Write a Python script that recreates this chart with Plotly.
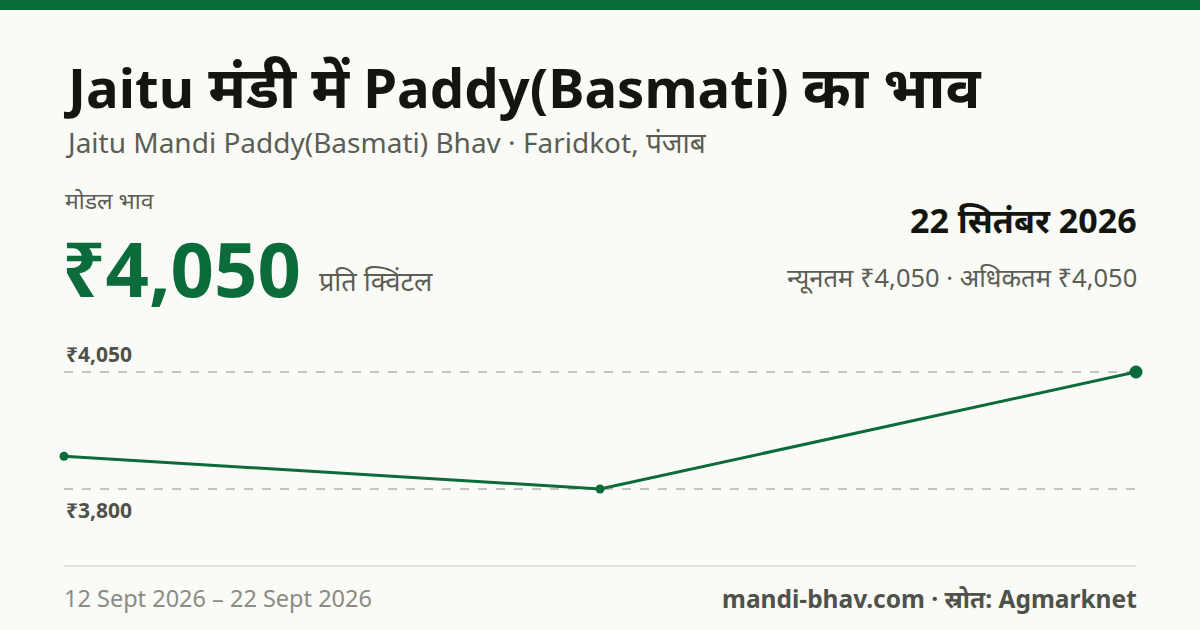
import plotly.graph_objs as go

# price series (Rs per quintal)
dates = ["2026-09-12", "2026-09-17", "2026-09-22"]
prices = [3870, 3800, 4050]
marker_sizes = [9, 9, 13]

# reference levels shown as dashed lines
ref_levels = [3800, 4050]
ref_labels = ["₹3,800", "₹4,050"]

DEV = "<span style='font-size:{}px'>{}</span>"
title = "Jaitu " + DEV.format(58, "मंडी में") + " Paddy(Basmati) " + DEV.format(58, "का भाव")
subtitle = "Jaitu Mandi Paddy(Basmati) Bhav · Faridkot, पंजाब"
modal_label = "मोडल भाव"
modal_price = "₹4,050"
unit = "प्रति क्विंटल"
latest_date = "22 सितंबर 2026"
min_max = "न्यूनतम ₹4,050 · अधिकतम ₹4,050"
date_range = "12 Sept 2026 – 22 Sept 2026"
source = "mandi-bhav.com · स्रोत: Agmarknet"

W, H = 1200, 630
L, R, T, B = 64, 64, 330, 65
GREEN = "#0b6b3a"
FONT = "Noto Sans, sans-serif"


def py(y):
    # pixel y (from top) -> paper coordinate
    return (H - B - y) / (H - T - B)


def px(x):
    return (x - L) / (W - L - R)


fig = go.Figure()
fig.add_trace(go.Scatter(
    x=dates, y=prices, mode="lines+markers",
    line=dict(color=GREEN, width=3),
    marker=dict(color=GREEN, size=marker_sizes, opacity=1, line=dict(width=0)),
    cliponaxis=False,
    hoverinfo="skip",
))

annos = [
    dict(text=title, x=px(61), y=py(86), xanchor="left", yanchor="middle",
         font=dict(size=54.5, color="#13160f", family=FONT, weight="bold")),
    dict(text=subtitle, x=px(63), y=py(142), xanchor="left", yanchor="middle",
         font=dict(size=28, color="#5b5e55", family=FONT)),
    dict(text=modal_label, x=px(63), y=py(200), xanchor="left", yanchor="middle",
         font=dict(size=23, color="#5b5e55", family=FONT)),
    dict(text=modal_price, x=px(60), y=py(267), xanchor="left", yanchor="middle",
         font=dict(size=76, color=GREEN, family=FONT, weight="bold")),
    dict(text=unit, x=px(317), y=py(280), xanchor="left", yanchor="middle",
         font=dict(size=27, color="#5b5e55", family=FONT)),
    dict(text=latest_date, x=px(1139), y=py(220), xanchor="right", yanchor="middle",
         font=dict(size=34, color="#13160f", family=FONT, weight="bold")),
    dict(text=min_max, x=px(1139), y=py(277), xanchor="right", yanchor="middle",
         font=dict(size=25.5, color="#5b5e55", family=FONT)),
    dict(text=date_range, x=px(62), y=py(598), xanchor="left", yanchor="middle",
         font=dict(size=23.5, color="#8a8c84", family=FONT)),
    dict(text=source, x=px(1139), y=py(598), xanchor="right", yanchor="middle",
         font=dict(size=24.5, color="#4f524a", family=FONT, weight="bold")),
]
for lvl, lab in zip(ref_levels, ref_labels):
    annos.append(dict(text=lab, x=0, xref="paper", y=lvl, yref="y",
                      xanchor="left", yanchor="middle", yshift=18 if lvl == 4050 else -21,
                      font=dict(size=21, color="#4f524a", family=FONT, weight="bold")))
for a in annos:
    a.setdefault("xref", "paper")
    a.setdefault("yref", "paper")
    a["showarrow"] = False

fig.update_layout(
    width=W, height=H,
    margin=dict(l=L, r=R, t=T, b=B),
    paper_bgcolor="#fafaf7", plot_bgcolor="#fafaf7",
    showlegend=False,
    annotations=annos,
    shapes=[dict(type="rect", xref="paper", yref="paper", x0=px(0), x1=px(W),
                 y0=py(10), y1=py(0), fillcolor=GREEN, line_width=0)],
    xaxis=dict(range=[dates[0], dates[-1]], showgrid=False, zeroline=False,
               showticklabels=False, showline=True, linecolor="#e2e3dc", linewidth=2,
               fixedrange=True),
    yaxis=dict(range=[3637.6, 4139.7], tickvals=ref_levels, showticklabels=False,
               showgrid=True, gridcolor="#c4c5bf", griddash="dash", gridwidth=1.5,
               zeroline=False, fixedrange=True),
)

fig.write_html("out.html", config={"displayModeBar": False},
               post_script="document.body.style.margin='0';document.body.style.background='#fafaf7';")
